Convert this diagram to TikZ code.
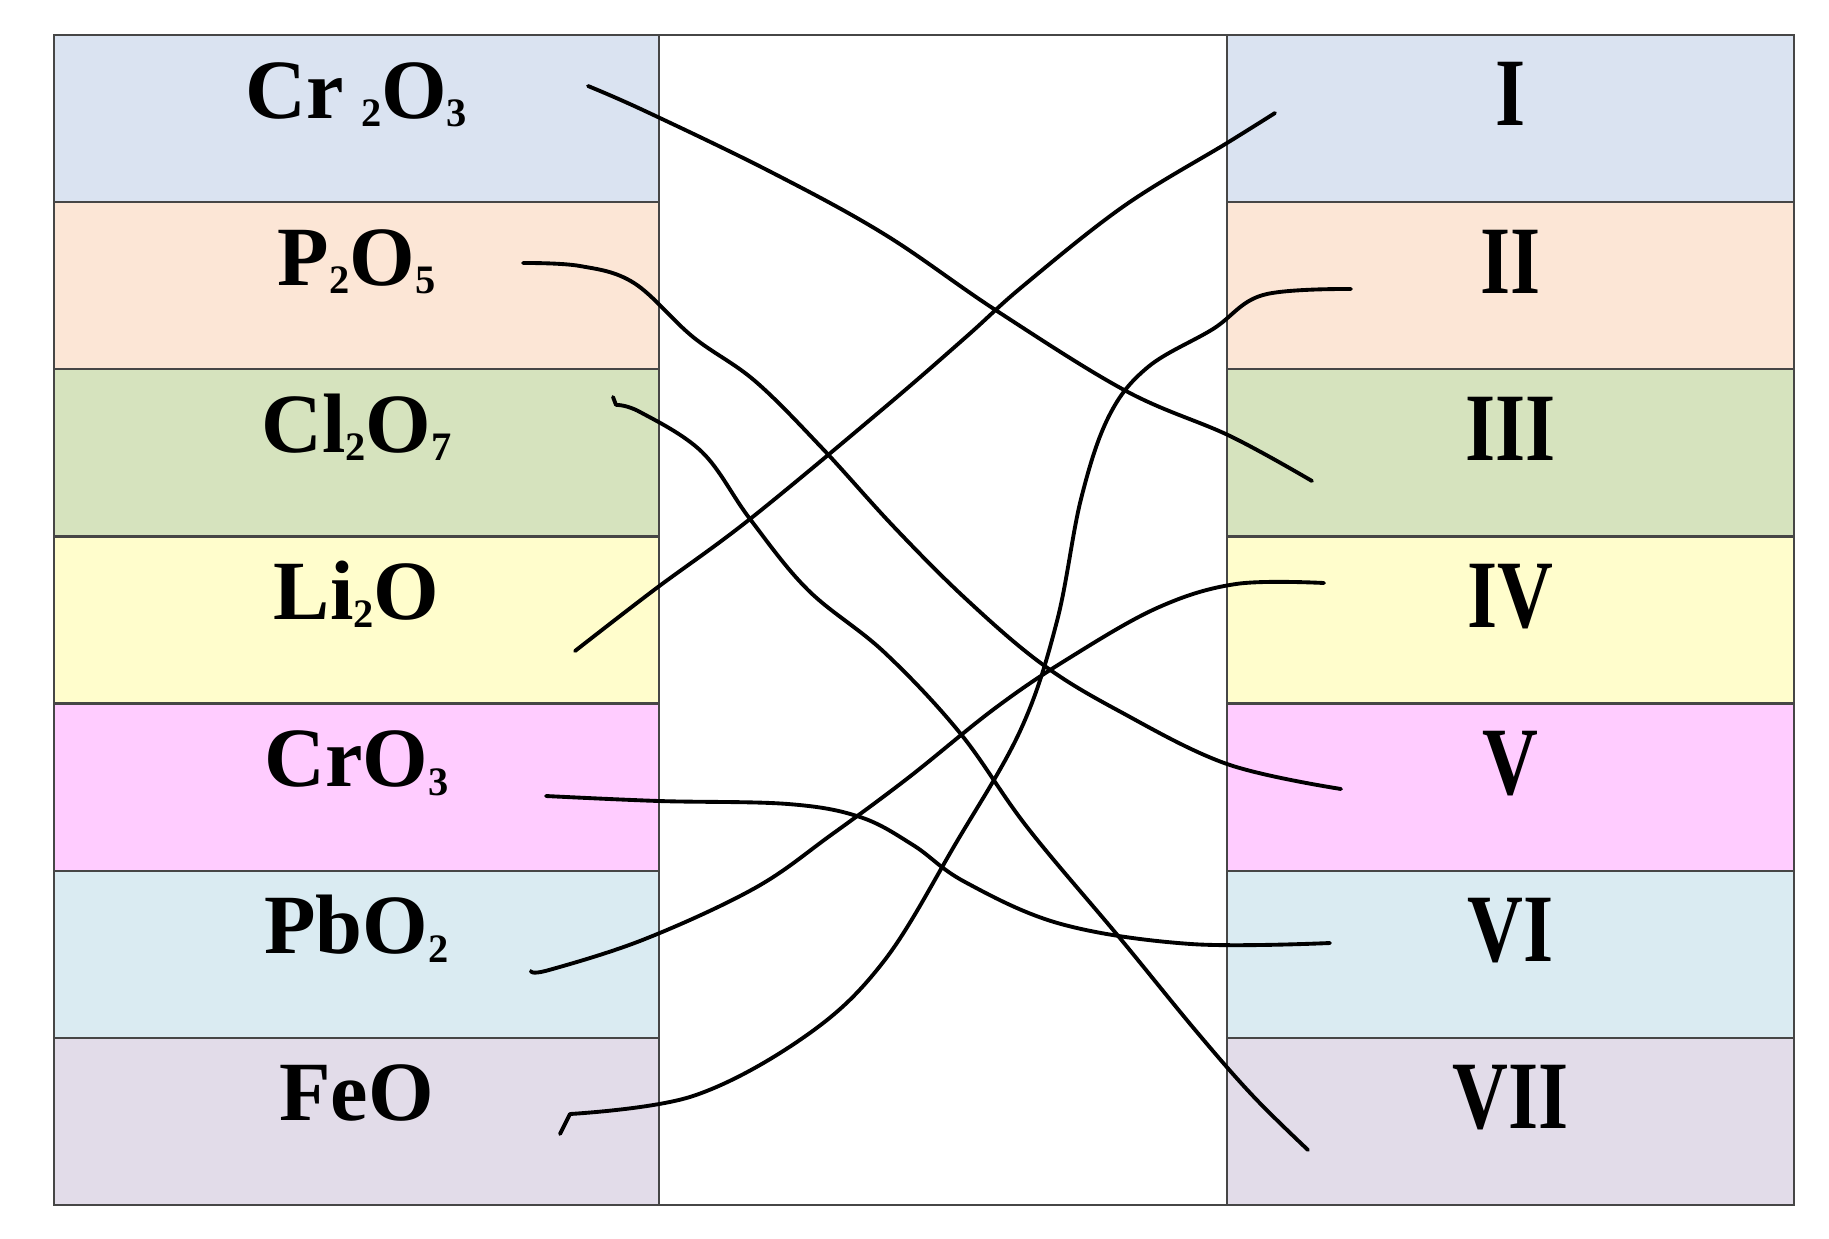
\documentclass[tikz,border=0pt]{standalone}
\usepackage{fontspec}
\setmainfont{Liberation Serif}
\newfontfamily\numfont[FakeStretch=0.8]{Liberation Serif}
\usepackage{graphicx}
\usepackage{xcolor}
\usepackage{tikz}
\definecolor{framegray}{RGB}{70,70,70}
\definecolor{row1}{RGB}{218,227,241}
\definecolor{row2}{RGB}{252,230,214}
\definecolor{row3}{RGB}{214,227,190}
\definecolor{row4}{RGB}{255,253,204}
\definecolor{row5}{RGB}{255,204,255}
\definecolor{row6}{RGB}{218,235,242}
\definecolor{row7}{RGB}{226,220,233}
\newcommand{\ix}[1]{\raisebox{-0.1em}{\fontsize{23}{23}\selectfont #1}}
\tikzset{
    cell_box/.style = {rectangle, draw=framegray, line width=1.3pt, inner sep=0pt, outer sep=0pt, minimum width=12.1cm, minimum height=3.343cm},
    right_box/.style = {cell_box, minimum width=11.34cm},
    mid_box/.style = {rectangle, draw=framegray, line width=1.3pt, fill=white, inner sep=0pt, outer sep=0pt, minimum width=11.36cm, minimum height=23.4cm},
    ox_text/.style = {anchor=base, inner sep=0pt, font=\fontsize{48}{52}\selectfont\bfseries},
    num_text/.style = {anchor=base, inner sep=0pt, font=\numfont\fontsize{55}{60}\selectfont\bfseries},
    match_line/.style = {line width=2.2pt, line cap=round, line join=round}
}
\begin{document}
\begin{tikzpicture}[x=0.02cm, y=-0.02cm]
    \useasboundingbox (0,0) rectangle (1829,1238);

    \node[mid_box] (mid) at (943,620) {};

    \foreach \i/\f/\n in {1/Cr\hspace{0.2em}\ix{2}O\ix{3}/I, 2/P\ix{2}O\ix{5}/II, 3/Cl\ix{2}O\ix{7}/III, 4/Li\ix{2}O/IV, 5/CrO\ix{3}/V, 6/PbO\ix{2}/VI, 7/FeO/VII} {
        \pgfmathsetmacro\yc{35+(\i-0.5)*167.14}
        \node[cell_box, fill=row\i] (l\i) at (356.5,\yc) {};
        \node[right_box, fill=row\i] (r\i) at (1510.5,\yc) {};
        \node[ox_text] (f\i) at ([yshift=-1.66cm]l\i.north) {\f};
        \node[num_text] (n\i) at ([yshift=-1.82cm]r\i.north) {\n};
    }

    \coordinate (cr2o3_pt) at (588,86);
    \coordinate (p2o5_pt) at (523,263);
    \coordinate (cl2o7_pt) at (613,397);
    \coordinate (li2o_pt) at (575,651);
    \coordinate (cro3_pt) at (546,796);
    \coordinate (pbo2_pt) at (531,971);
    \coordinate (feo_pt) at (560,1134);
    \coordinate (i_pt) at (1275,113);
    \coordinate (ii_pt) at (1351,289);
    \coordinate (iii_pt) at (1312,481);
    \coordinate (iv_pt) at (1324,583);
    \coordinate (v_pt) at (1341,789);
    \coordinate (vi_pt) at (1330,943);
    \coordinate (vii_pt) at (1308,1150);

    \draw[match_line] plot[smooth, tension=0.6] coordinates {(cr2o3_pt) (645,111) (769,171) (884,234) (997,311) (1126,391) (1230,436) (iii_pt)};
    \draw[match_line] plot[smooth, tension=0.6] coordinates {(li2o_pt) (654,590) (750,519) (884,408) (966,337) (1023,286) (1124,206) (1227,143) (i_pt)};
    \draw[match_line] plot[smooth, tension=0.6] coordinates {(p2o5_pt) (580,266) (634,283) (693,337) (755,381) (822,448) (894,527) (966,599) (1042,664) (1119,711) (1227,764) (v_pt)};
    \draw[match_line] (cl2o7_pt) -- (616,405) plot[smooth, tension=0.6] coordinates {(616,405) (640,412) (702,452) (750,519) (808,590) (884,652) (960,733) (1027,827) (1119,937) (1196,1031) (1253,1096) (vii_pt)};
    \draw[match_line] plot[smooth, tension=0.6] coordinates {(ii_pt) (1263,295) (1213,329) (1148,367) (1109,416) (1081,499) (1057,621) (1021,729) (956,843) (884,961) (807,1035) (693,1096) (570,1114)} -- (feo_pt);
    \draw[match_line] plot[smooth, tension=0.6] coordinates {(cro3_pt) (659,801) (788,804) (860,817) (913,845) (965,882) (1061,924) (1191,944) (vi_pt)};
    \draw[match_line] plot[smooth, tension=0.6] coordinates {(iv_pt) (1236,584) (1157,608) (1066,660) (994,709) (908,778) (831,835) (755,888) (645,939) (549,970) (pbo2_pt)};
\end{tikzpicture}
\end{document}
